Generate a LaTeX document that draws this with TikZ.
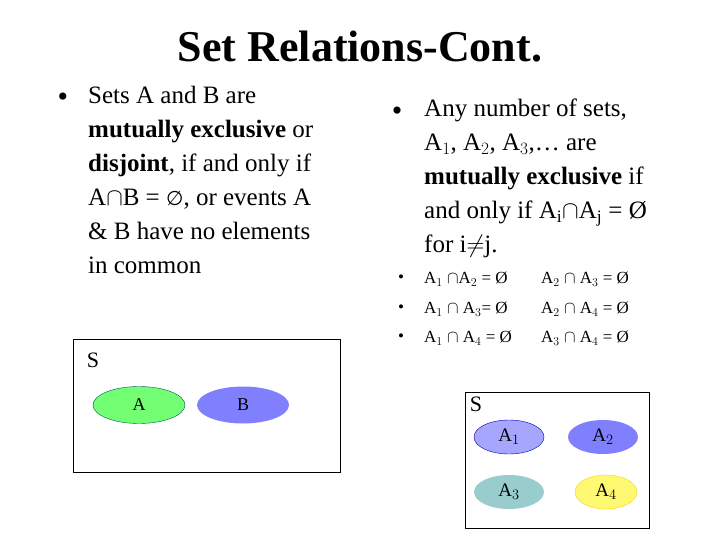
\documentclass[tikz,border=0pt]{standalone}
\usepackage{fontspec}
\usetikzlibrary{shapes.geometric}
\setmainfont{Liberation Serif}
\newfontfamily\symf{DejaVu Sans}
\begin{document}
\begin{tikzpicture}[x=1pt,y=-1pt,
  txt/.style={anchor=north west,inner sep=0pt,align=left,font=\fontsize{25}{34}\selectfont},
  sml/.style={anchor=west,inner sep=0pt,font=\fontsize{17}{20}\selectfont},
  ell/.style={ellipse,minimum width=92pt,minimum height=37pt,inner sep=0pt,font=\fontsize{18}{20}\selectfont},
  sell/.style={ellipse,minimum width=70pt,minimum height=34pt,inner sep=0pt,font=\fontsize{19}{20}\selectfont},
  box/.style={draw=black,line width=1pt},
  bul/.style={anchor=center,font=\fontsize{30}{30}\selectfont}]
\useasboundingbox (0,0) rectangle (720,540);
\node (title) at (360,47) {\fontsize{44}{48}\selectfont\bfseries Set Relations-Cont.};
\node (b1) at (63,100) [bul] {•};
\node (t1) at (88,86) [txt] {Sets A and B are\\\textbf{mutually exclusive} or\\\textbf{disjoint}, if and only if\\A$\cap$B = {\symf\fontsize{20}{20}\selectfont ∅}, or events A\\\& B have no elements\\in common};
\node (b2) at (397,114) [bul] {•};
\node (t2) at (424,99) [txt,align=left] {Any number of sets,\\\hspace*{0pt}A$_1$, A$_2$, A$_3$,\dots{} are\\\textbf{mutually exclusive} if\\and only if A$_\mathrm{i}$$\cap$A$_\mathrm{j}$ = Ø\\for i$\neq$j.};
\foreach \y/\a/\b in {279/{A$_1$ $\cap$A$_2$ = Ø}/{A$_2$ $\cap$ A$_3$ = Ø},
                       309/{A$_1$ $\cap$ A$_3$= Ø}/{A$_2$ $\cap$ A$_4$ = Ø},
                       338/{A$_1$ $\cap$ A$_4$ = Ø}/{A$_3$ $\cap$ A$_4$ = Ø}}{
  \node[sml] at (398,\y) {•};
  \node[sml] at (424,\y) {\a};
  \node[sml] at (541,\y) {\b};
}
\node (s1) [box,minimum width=267pt,minimum height=133pt,inner sep=0pt] at (206.5,405.5) {};
\node (s1l) at (93,360) [font=\fontsize{22}{22}\selectfont] {S};
\node (ea) [ell,draw=teal!70!black,fill=green!55!white] at (139,405) {A};
\node (eb) [ell,fill=blue!50!white] at (243,405) {B};
\node (s2) [box,minimum width=184pt,minimum height=136pt,inner sep=0pt] at (557,460) {};
\node (s2l) at (476,404) [font=\fontsize{22}{22}\selectfont] {S};
\node (a1) [sell,draw=blue!70!black,fill=blue!35!white] at (509,437) {A$_1$};
\node (a2) [sell,fill=blue!50!white] at (603,437) {A$_2$};
\node (a3) [sell,fill=teal!40!white] at (509,492) {A$_3$};
\node (a4) [sell,minimum width=62pt,draw=yellow!70!orange,fill=yellow!55!white] at (606,492) {A$_4$};
\end{tikzpicture}
\end{document}
